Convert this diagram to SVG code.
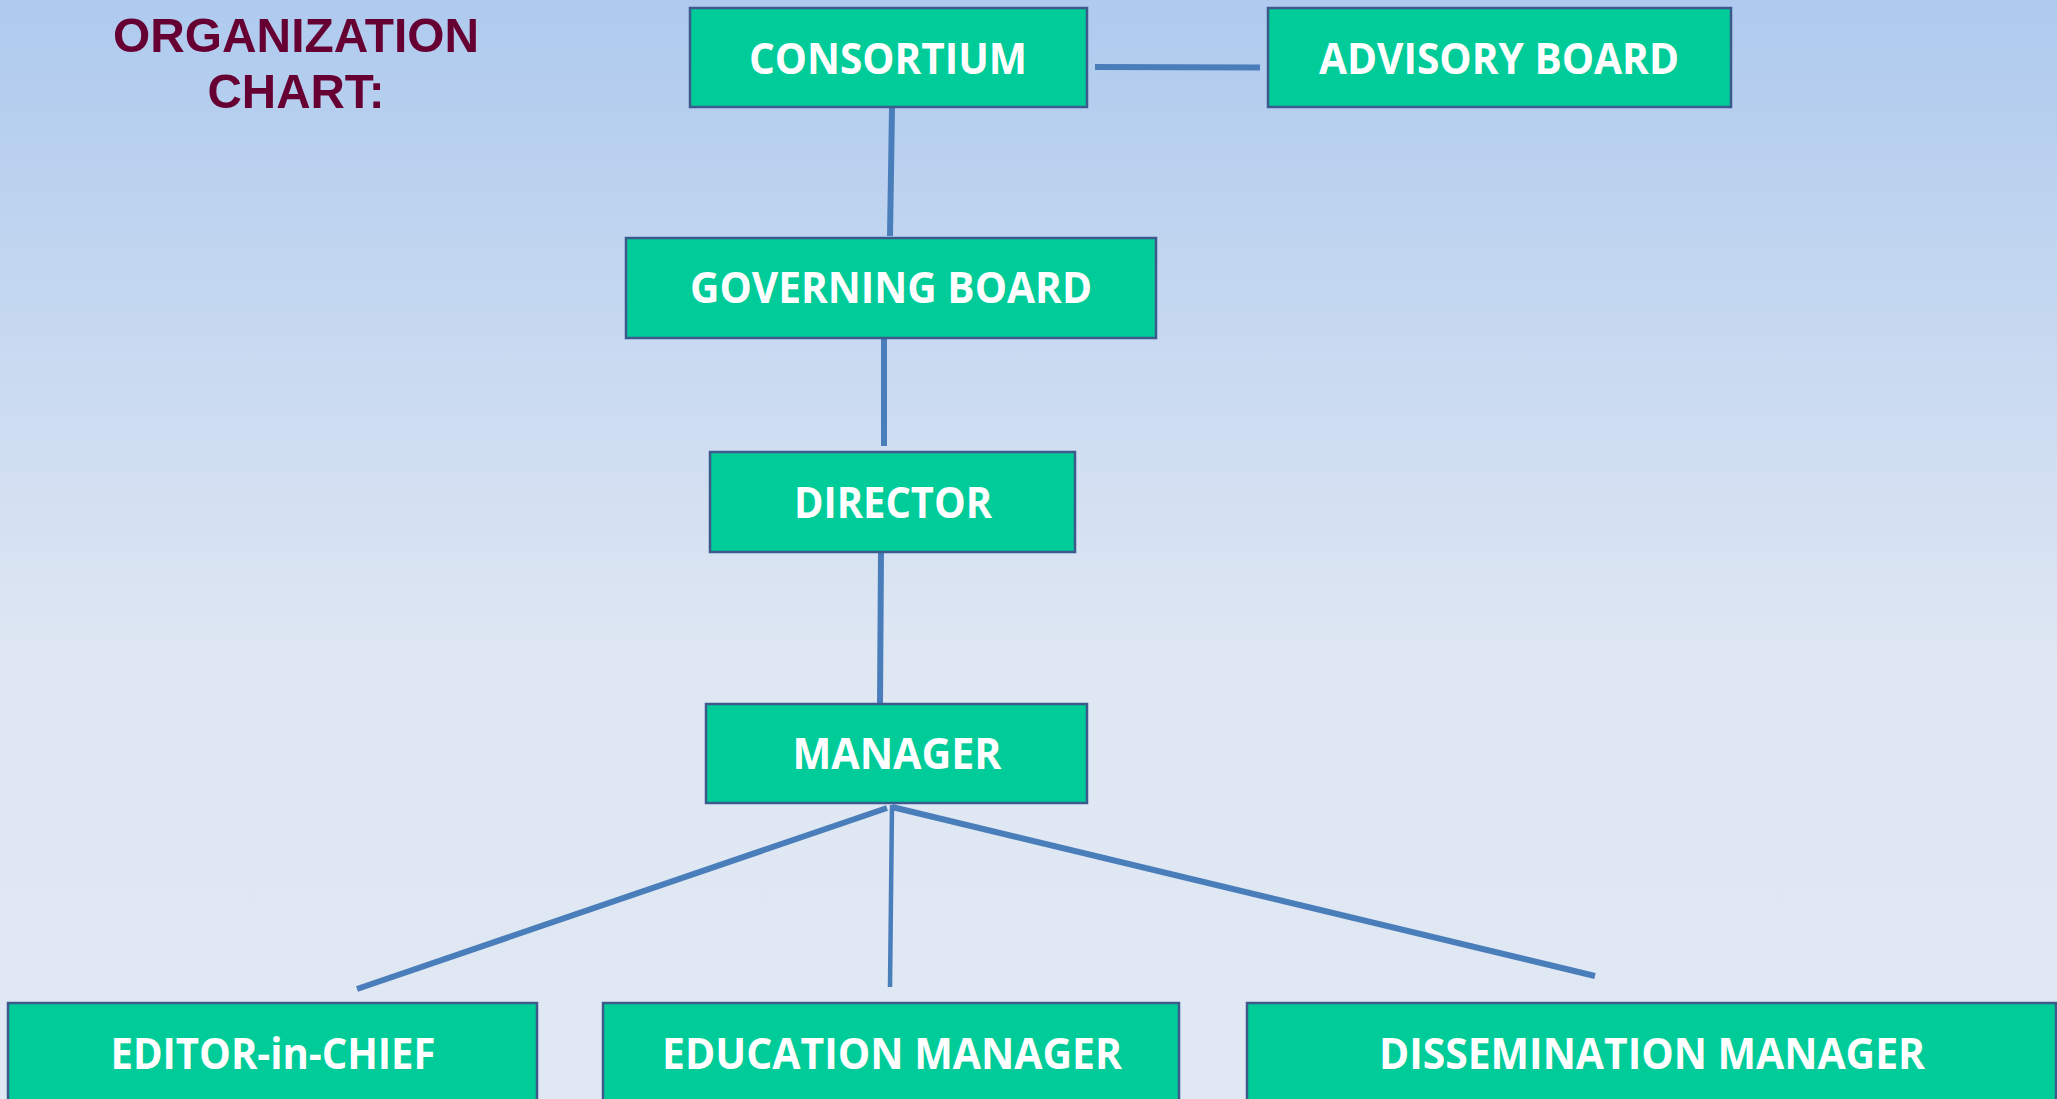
<svg xmlns="http://www.w3.org/2000/svg" width="2057" height="1099" viewBox="0 0 2057 1099">
<defs>
<linearGradient id="bg" x1="0" y1="0" x2="0" y2="1">
<stop offset="0" stop-color="#aecaee"/>
<stop offset="0.6" stop-color="#dfe7f3"/>
<stop offset="1" stop-color="#e0e8f3"/>
</linearGradient>
<style>
.box{fill:#00cc99;stroke:#3c5a8b;stroke-width:2.5}
.lbl{font-family:"Open Sans","Noto Sans",sans-serif;font-weight:700;font-size:43px;fill:#ffffff;text-anchor:middle}
.ln{stroke:#4a7ebb;stroke-width:6;fill:none}
.title{font-family:"Liberation Sans",Arial,sans-serif;font-weight:700;font-size:49px;fill:#660033;text-anchor:middle}
</style>
</defs>
<rect x="0" y="0" width="2057" height="1099" fill="url(#bg)"/>
<g id="title">
<text class="title" x="296" y="52" textLength="366" lengthAdjust="spacingAndGlyphs">ORGANIZATION</text>
<text class="title" x="296" y="108" textLength="177" lengthAdjust="spacingAndGlyphs">CHART:</text>
</g>
<g id="connectors">
<line class="ln" x1="1095" y1="67" x2="1260" y2="67.5"/>
<line class="ln" x1="892" y1="108" x2="890" y2="236"/>
<line class="ln" x1="884" y1="338" x2="884" y2="446"/>
<line class="ln" x1="881" y1="552" x2="880" y2="704"/>
<line class="ln" x1="887" y1="808" x2="357" y2="989"/>
<line class="ln" x1="892" y1="805" x2="890" y2="987" style="stroke-width:4.5"/>
<line class="ln" x1="892" y1="807" x2="1595" y2="976"/>
</g>
<g id="consortium">
<rect class="box" x="690" y="8" width="397" height="99"/>
<text class="lbl" x="888" y="74" textLength="278" lengthAdjust="spacingAndGlyphs">CONSORTIUM</text>
</g>
<g id="advisory-board">
<rect class="box" x="1268" y="8" width="463" height="99"/>
<text class="lbl" x="1499" y="74" textLength="360" lengthAdjust="spacingAndGlyphs">ADVISORY BOARD</text>
</g>
<g id="governing-board">
<rect class="box" x="626" y="238" width="530" height="100"/>
<text class="lbl" x="891" y="303" textLength="402" lengthAdjust="spacingAndGlyphs">GOVERNING BOARD</text>
</g>
<g id="director">
<rect class="box" x="710" y="452" width="365" height="100"/>
<text class="lbl" x="893" y="518" textLength="198" lengthAdjust="spacingAndGlyphs">DIRECTOR</text>
</g>
<g id="manager">
<rect class="box" x="706" y="704" width="381" height="99"/>
<text class="lbl" x="897" y="769" textLength="209" lengthAdjust="spacingAndGlyphs">MANAGER</text>
</g>
<g id="editor-in-chief">
<rect class="box" x="8" y="1003" width="529" height="110"/>
<text class="lbl" x="273" y="1069" textLength="325" lengthAdjust="spacingAndGlyphs">EDITOR-in-CHIEF</text>
</g>
<g id="education-manager">
<rect class="box" x="603" y="1003" width="576" height="110"/>
<text class="lbl" x="892" y="1069" textLength="460" lengthAdjust="spacingAndGlyphs">EDUCATION MANAGER</text>
</g>
<g id="dissemination-manager">
<rect class="box" x="1247" y="1003" width="809" height="110"/>
<text class="lbl" x="1652" y="1069" textLength="546" lengthAdjust="spacingAndGlyphs">DISSEMINATION MANAGER</text>
</g>
</svg>
